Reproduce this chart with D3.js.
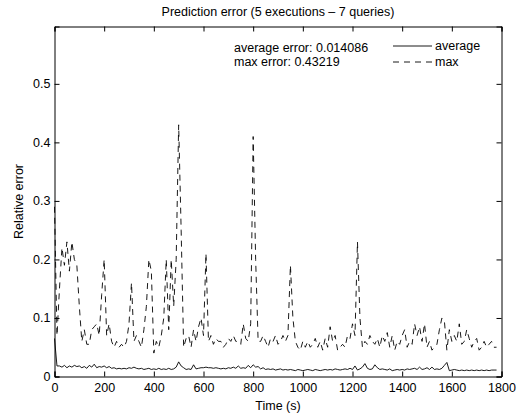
<!DOCTYPE html>
<html>
<head>
<meta charset="utf-8">
<script src="https://cdn.jsdelivr.net/npm/d3@7"></script>
<style>
  body { margin: 0; background: #fff; }
  text { font-family: "Liberation Sans", Arial, sans-serif; }
</style>
</head>
<body>
<svg id="chart" width="519" height="415"></svg>
<script>
// sample spacing in seconds
const sampleStep = 10;

// max relative error per sample
const maxErr = [
  0.29, 0.07, 0.15, 0.22, 0.19, 0.23, 0.18, 0.23, 0.20, 0.19,
  0.12, 0.06, 0.08, 0.055, 0.055, 0.08, 0.085, 0.09, 0.07, 0.14,
  0.20, 0.07, 0.09, 0.06, 0.05, 0.06, 0.05, 0.055, 0.05, 0.06,
  0.09, 0.16, 0.06, 0.07, 0.06, 0.05, 0.08, 0.12, 0.20, 0.18,
  0.04, 0.06, 0.05, 0.07, 0.10, 0.20, 0.08, 0.20, 0.12, 0.20,
  0.43, 0.25, 0.05, 0.065, 0.07, 0.05, 0.08, 0.06, 0.085, 0.10,
  0.07, 0.21, 0.06, 0.07, 0.055, 0.065, 0.06, 0.06, 0.05, 0.055,
  0.065, 0.06, 0.07, 0.06, 0.06, 0.055, 0.09, 0.065, 0.06, 0.09,
  0.41, 0.20, 0.06, 0.06, 0.07, 0.06, 0.05, 0.065, 0.06, 0.07,
  0.055, 0.06, 0.07, 0.06, 0.07, 0.19, 0.10, 0.06, 0.05, 0.045,
  0.06, 0.05, 0.06, 0.05, 0.055, 0.065, 0.05, 0.06, 0.045, 0.065,
  0.05, 0.085, 0.06, 0.07, 0.045, 0.05, 0.055, 0.05, 0.07, 0.065,
  0.09, 0.07, 0.23, 0.10, 0.05, 0.06, 0.055, 0.07, 0.06, 0.055,
  0.065, 0.05, 0.07, 0.06, 0.075, 0.05, 0.07, 0.045, 0.06, 0.055,
  0.07, 0.08, 0.05, 0.06, 0.055, 0.09, 0.07, 0.085, 0.06, 0.09,
  0.05, 0.06, 0.045, 0.05, 0.055, 0.08, 0.10, 0.095, 0.045, 0.08,
  0.06, 0.07, 0.06, 0.09, 0.055, 0.06, 0.08, 0.065, 0.05, 0.06,
  0.065, 0.045, 0.05, 0.06, 0.05, 0.055, 0.06, 0.05, 0.05
];

// average relative error per sample
const avgErr = [
  0.065, 0.018, 0.018, 0.016, 0.019, 0.015, 0.018, 0.016, 0.019, 0.017,
  0.018, 0.015, 0.017, 0.014, 0.019, 0.016, 0.021, 0.015, 0.017, 0.016,
  0.018, 0.015, 0.017, 0.014, 0.015, 0.013, 0.014, 0.013, 0.014, 0.013,
  0.015, 0.014, 0.016, 0.014, 0.013, 0.014, 0.012, 0.013, 0.014, 0.012,
  0.013, 0.012, 0.014, 0.012, 0.013, 0.012, 0.014, 0.012, 0.013, 0.016,
  0.025, 0.018, 0.015, 0.012, 0.013, 0.012, 0.020, 0.013, 0.014, 0.015,
  0.015, 0.016, 0.015, 0.015, 0.014, 0.015, 0.014, 0.013, 0.014, 0.013,
  0.015, 0.014, 0.016, 0.014, 0.018, 0.014, 0.015, 0.014, 0.019, 0.015,
  0.020, 0.016, 0.017, 0.013, 0.015, 0.012, 0.013, 0.012, 0.013, 0.011,
  0.012, 0.013, 0.011, 0.012, 0.011, 0.012, 0.011, 0.010, 0.012, 0.011,
  0.010, 0.011, 0.012, 0.011, 0.010, 0.012, 0.011, 0.010, 0.011, 0.012,
  0.011, 0.012, 0.011, 0.013, 0.012, 0.011, 0.012, 0.013, 0.012, 0.014,
  0.012, 0.018, 0.011, 0.013, 0.016, 0.022, 0.014, 0.012, 0.013, 0.020,
  0.015, 0.012, 0.013, 0.012, 0.011, 0.013, 0.010, 0.011, 0.012, 0.011,
  0.012, 0.011, 0.013, 0.012, 0.013, 0.014, 0.012, 0.016, 0.012, 0.013,
  0.015, 0.012, 0.016, 0.012, 0.013, 0.012, 0.014, 0.019, 0.024, 0.010,
  0.011, 0.012, 0.011, 0.010, 0.011, 0.010, 0.011, 0.010, 0.011, 0.010,
  0.011, 0.010, 0.011, 0.010, 0.011, 0.010, 0.011, 0.011, 0.011
];

const xTicks = [0, 200, 400, 600, 800, 1000, 1200, 1400, 1600, 1800];
const yTicks = [0, 0.1, 0.2, 0.3, 0.4, 0.5];

const svg = d3.select('#chart');
const mLeft = 54.5, mRight = 501.5, mTop = 26.5, mBottom = 376.5;
const fontSize = 12.5;

const x = d3.scaleLinear().domain([0, 1800]).range([mLeft, mRight]);
const y = d3.scaleLinear().domain([0, 0.598]).range([mBottom, mTop]);

const rows = maxErr.map((m, i) => ({ t: i * sampleStep, max: m, avg: avgErr[i] }));

// axes, MATLAB style: ticks inside, box all round
const tickLen = 5;
svg.append('g').attr('transform', `translate(0,${mBottom})`)
  .call(d3.axisBottom(x).tickValues(xTicks).tickSize(-tickLen).tickPadding(7).tickFormat(d3.format('d')));
svg.append('g').attr('transform', `translate(0,${mTop})`)
  .call(d3.axisTop(x).tickValues(xTicks).tickSize(-tickLen).tickFormat(''));
svg.append('g').attr('transform', `translate(${mLeft},0)`)
  .call(d3.axisLeft(y).tickValues(yTicks).tickSize(-tickLen).tickPadding(4).tickFormat(d => d === 0 ? '0' : d3.format('.1f')(d)));
svg.append('g').attr('transform', `translate(${mRight},0)`)
  .call(d3.axisRight(y).tickValues(yTicks).tickSize(-tickLen).tickFormat(''));

svg.selectAll('.domain').attr('stroke', '#000').attr('stroke-width', 1);
svg.selectAll('.tick line').attr('stroke', '#000');
svg.selectAll('.tick text').attr('font-size', fontSize).attr('fill', '#000')
  .attr('font-family', '"Liberation Sans", Arial, sans-serif');

const line = key => d3.line().x(d => x(d.t)).y(d => y(d[key]));

svg.append('path').datum(rows).attr('d', line('max'))
  .attr('fill', 'none').attr('stroke', '#000').attr('stroke-width', 0.9)
  .attr('stroke-dasharray', '6,5');
svg.append('path').datum(rows).attr('d', line('avg'))
  .attr('fill', 'none').attr('stroke', '#000').attr('stroke-width', 0.9);

// labels
svg.append('text').attr('x', (mLeft + mRight) / 2).attr('y', 16).attr('text-anchor', 'middle')
  .attr('font-size', fontSize).text('Prediction error (5 executions \u2013 7 queries)');
svg.append('text').attr('x', (mLeft + mRight) / 2).attr('y', 410).attr('text-anchor', 'middle')
  .attr('font-size', fontSize).text('Time (s)');
svg.append('text').attr('transform', `translate(23,${(mTop + mBottom) / 2}) rotate(-90)`)
  .attr('text-anchor', 'middle').attr('font-size', fontSize).text('Relative error');

svg.append('text').attr('x', 234).attr('y', 52).attr('font-size', fontSize)
  .text('average error: 0.014086');
svg.append('text').attr('x', 234).attr('y', 66).attr('font-size', fontSize)
  .text('max error: 0.43219');

// legend
const legend = [
  { name: 'average', dash: null, ly: 46 },
  { name: 'max', dash: '6,5', ly: 62 }
];
const lg = svg.selectAll('.lg').data(legend).enter().append('g').attr('class', 'lg');
lg.append('line').attr('x1', 393).attr('x2', 432).attr('y1', d => d.ly).attr('y2', d => d.ly)
  .attr('stroke', '#000').attr('stroke-width', 0.9).attr('stroke-dasharray', d => d.dash);
lg.append('text').attr('x', 435).attr('y', d => d.ly + 4).attr('font-size', fontSize).text(d => d.name);
</script>
</body>
</html>
